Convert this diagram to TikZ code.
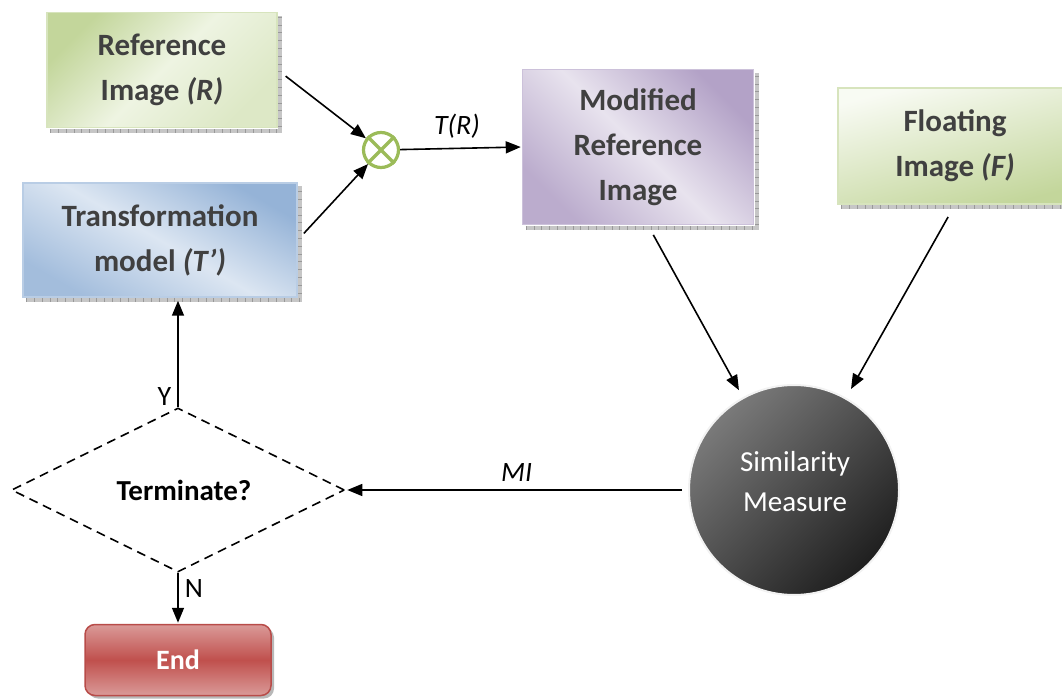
\documentclass[tikz,border=0pt]{standalone}
\usepackage{fontspec}
\setmainfont{Carlito}
\usetikzlibrary{arrows.meta,shapes.geometric,shadows}

\definecolor{grnD}{HTML}{C3D69B}
\definecolor{grnL}{HTML}{EEF4E2}
\definecolor{grnB}{HTML}{D7E4BD}
\definecolor{bluD}{HTML}{95B3D7}
\definecolor{bluL}{HTML}{DCE6F2}
\definecolor{bluB}{HTML}{B9CDE5}
\definecolor{purD}{HTML}{B3A2C7}
\definecolor{purL}{HTML}{E8E3EE}
\definecolor{purB}{HTML}{CCC1DA}
\definecolor{redM}{HTML}{C0504D}
\definecolor{redL}{HTML}{DA9A98}
\definecolor{redB}{HTML}{B84C49}
\definecolor{txt}{HTML}{404040}
\definecolor{otc}{HTML}{9BBB59}
\definecolor{simL}{HTML}{7A7A7A}
\definecolor{simD}{HTML}{1F1F1F}

\tikzset{
  box/.style={draw, line width=1.5pt, inner sep=0pt, align=center, text=txt,
    font=\fontsize{31}{45}\selectfont\bfseries},
  refbox/.style={box, draw=grnB, top color=grnD, bottom color=grnL!60!grnD,
    middle color=grnL, shading angle=45},
  flobox/.style={box, draw=grnB, top color=grnL!40!white, bottom color=grnD,
    shading angle=15},
  tbox/.style={box, draw=bluB, top color=bluD, bottom color=bluD!80!bluL,
    middle color=bluL, shading angle=-30},
  mbox/.style={box, draw=purB, top color=purD, bottom color=purD!85!purL,
    middle color=purL, shading angle=-45},
  endbox/.style={draw=redB, line width=1.5pt, rounded corners=10pt, inner sep=0pt,
    top color=redL, bottom color=redL, middle color=redM, text=white,
    font=\fontsize{28}{34}\selectfont\bfseries,
    drop shadow={shadow xshift=3pt, shadow yshift=-3pt, fill=gray!70, opacity=.8}},
  simnode/.style={circle, draw=gray!10, line width=2pt, inner sep=0pt,
    top color=simL, bottom color=simD, shading angle=45},
  simtext/.style={inner sep=0pt, text=white, align=center,
    font=\fontsize{29}{40}\selectfont},
  otimesnode/.style={circle, draw=otc, line width=3.2pt, fill=white, inner sep=0pt,
    minimum size=35pt},
  decision/.style={diamond, draw=black, line width=1.6pt, dash pattern=on 9pt off 6pt,
    inner sep=0pt},
  dectext/.style={inner sep=0pt, font=\fontsize{29}{34}\selectfont\bfseries},
  lbl/.style={inner sep=0pt, font=\fontsize{28}{34}\selectfont},
  arr/.style={line width=1.6pt, -{Triangle[length=15pt,width=12pt]}},
  shadowband/.style={line width=4pt, draw=gray!45},
  shadowtick/.style={line width=4pt, draw=gray!80, dash pattern=on 0.8pt off 7pt},
}

\begin{document}
\begin{tikzpicture}[x=1pt, y=-1pt]
\useasboundingbox (0,0) rectangle (1062,700);

% boxes
\node[refbox, minimum width=230pt, minimum height=115pt] (ref) at (162,70)
  {Reference\\Image \textit{(R)}};
\node[tbox, minimum width=274pt, minimum height=114pt] (trans) at (160,240)
  {Transformation\\model \textit{(T’)}};
\node[mbox, minimum width=231pt, minimum height=155pt] (mod) at (638,147)
  {Modified\\Reference\\Image};
\node[flobox, minimum width=234pt, minimum height=116pt] (flo) at (955,146)
  {Floating\\Image \textit{(F)}};

% hatched shadow strips along the right and lower edges
\foreach \n in {ref,trans,mod,flo}{
  \draw[shadowband] ([xshift=4pt,yshift=-2.5pt]\n.south west) -- ([xshift=2.5pt,yshift=-2.5pt]\n.south east)
    -- ([xshift=2.5pt,yshift=-4pt]\n.north east);
  \draw[shadowtick] ([xshift=4pt,yshift=-2.5pt]\n.south west) -- ([xshift=2.5pt,yshift=-2.5pt]\n.south east)
    -- ([xshift=2.5pt,yshift=-4pt]\n.north east);
}

% combination operator
\node[otimesnode] (ot) at (381,150) {};
\draw[otc, line width=3.2pt] (ot.north west) -- (ot.south east);
\draw[otc, line width=3.2pt] (ot.north east) -- (ot.south west);

% similarity measure
\node[simnode, minimum size=210pt] (sim) at (794,490) {};
\node[simtext] (simlbl) at (795,482) {Similarity\\Measure};

% decision and end
\node[decision, minimum width=333pt, minimum height=164pt] (dia) at (178,490) {};
\node[dectext] (dialbl) at (184,490) {Terminate?};
\node[endbox, minimum width=186pt, minimum height=71pt] (end) at (178,660) {End};

% connectors
\draw[arr, shorten <=10pt] (ref.east) -- (ot);
\draw[arr, shorten <=9pt] (trans.east) -- (ot);
\draw[arr, shorten >=1pt] (ot) -- (mod.west) node[lbl, midway, above=9pt, xshift=-4pt] {\textit{T(R)}};
\draw[arr, shorten <=11pt, shorten >=8pt] ([xshift=10pt]mod.south) -- (sim);
\draw[arr, shorten <=14pt, shorten >=10pt] (flo.south) -- (sim);
\draw[arr, shorten <=6pt, shorten >=2pt] (sim.west) -- (dia.east)
  node[lbl, pos=0.5, above=8pt] {\textit{MI}};
\draw[arr, shorten >=3pt] (dia.north) -- (dia.north |- trans.south)
  node[lbl, pos=0.1, left=6pt] {Y};
\draw[arr, shorten >=1pt] (dia.south) -- (dia.south |- end.north)
  node[lbl, pos=0.3, right=6pt] {N};
\end{tikzpicture}
\end{document}
